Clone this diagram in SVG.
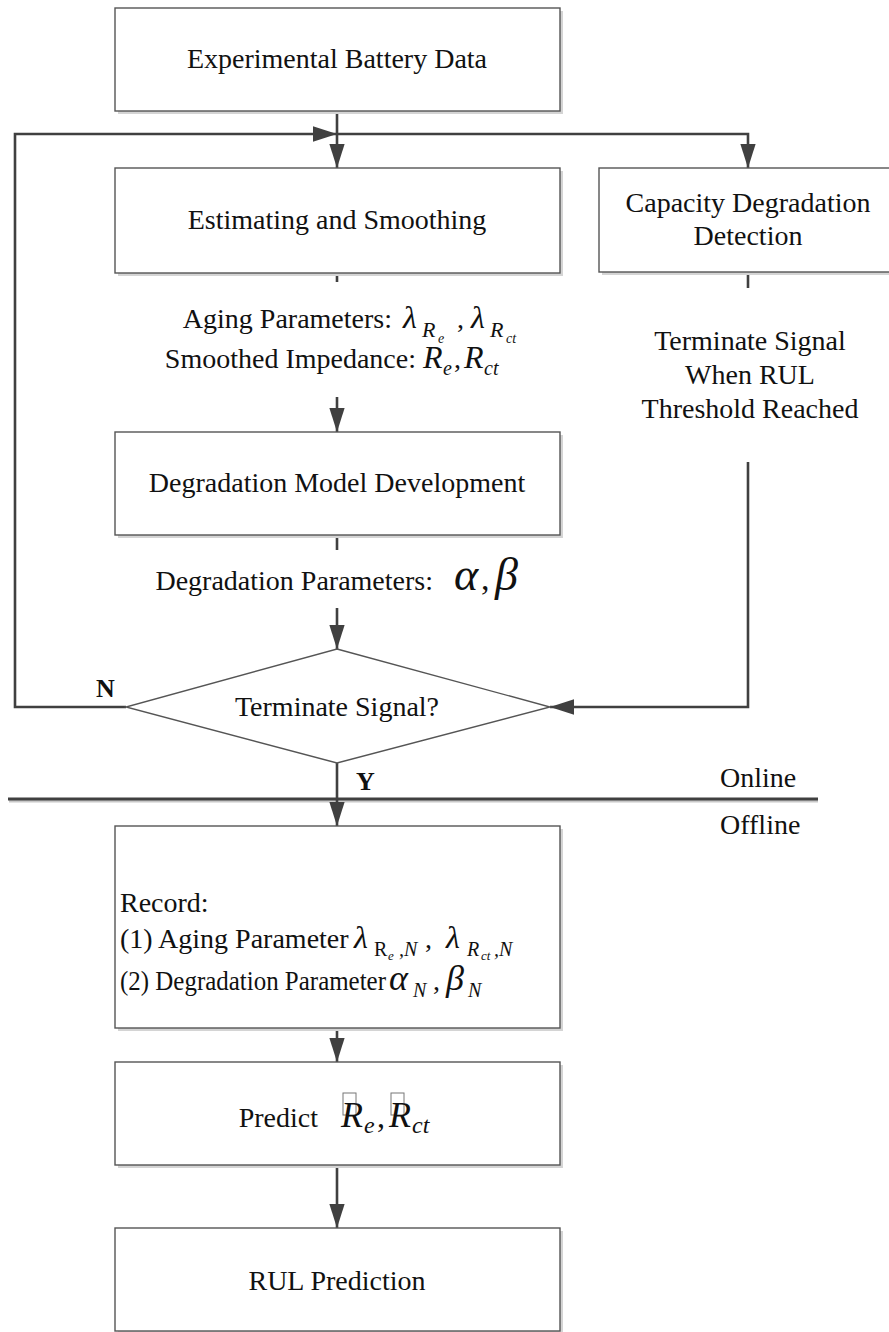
<svg xmlns="http://www.w3.org/2000/svg" width="889" height="1332" viewBox="0 0 889 1332">
  <style>
    .box { fill: #ffffff; stroke: #555555; stroke-width: 1.4; }
    .shadow { fill: #d4d4d4; }
    .flow { fill: none; stroke: #404040; stroke-width: 2.6; }
    .t { font-family: "Liberation Serif", "Times New Roman", serif; font-size: 28px; fill: #111111; }
    .mid { text-anchor: middle; }
    .end { text-anchor: end; }
    .m { font-family: "Liberation Serif", "Times New Roman", serif; font-style: italic; fill: #111111; }
    .up { font-style: normal; }
    .lbl { font-family: "Liberation Serif", "Times New Roman", serif; font-size: 26px; font-weight: bold; fill: #111111; }
    .tofu { fill: none; stroke: #777777; stroke-width: 1; }
  </style>
  <defs>
    <marker id="arrow" markerUnits="userSpaceOnUse" markerWidth="24" markerHeight="16" viewBox="0 0 22 14" refX="22" refY="7" orient="auto">
      <path d="M0,0 L22,7 L0,14 Z" fill="#404040"/>
    </marker>
  </defs>

  <rect width="889" height="1332" fill="#ffffff"/>

  <!-- online / offline separator -->
  <g id="separator">
    <line x1="9" y1="801" x2="818" y2="801" stroke="#c8c8c8" stroke-width="3"/>
    <line x1="8" y1="799" x2="818" y2="799" stroke="#404040" stroke-width="3"/>
    <text class="t" x="720" y="787">Online</text>
    <text class="t" x="720" y="834">Offline</text>
  </g>

  <!-- connectors -->
  <g id="connectors">
    <path class="flow" d="M337,111 V168" marker-end="url(#arrow)"/>
    <path class="flow" d="M337,134 H748 V168" marker-end="url(#arrow)"/>
    <path class="flow" d="M126,707 H15 V134 H337" marker-end="url(#arrow)"/>
    <path class="flow" d="M337,273 V282"/>
    <path class="flow" d="M337,397 V432" marker-end="url(#arrow)"/>
    <path class="flow" d="M337,535 V550"/>
    <path class="flow" d="M337,608 V649" marker-end="url(#arrow)"/>
    <path class="flow" d="M748,272 V288"/>
    <path class="flow" d="M748,462 V707 H550" marker-end="url(#arrow)"/>
    <path class="flow" d="M337,763 V826" marker-end="url(#arrow)"/>
    <path class="flow" d="M337,1028 V1062" marker-end="url(#arrow)"/>
    <path class="flow" d="M337,1165 V1228" marker-end="url(#arrow)"/>
    <text class="lbl" x="96" y="697">N</text>
    <text class="lbl" x="356" y="790">Y</text>
  </g>

  <g id="experimental-data">
    <rect class="shadow" x="118" y="11" width="445" height="103"/>
    <rect class="box" x="115" y="8" width="445" height="103"/>
    <text class="t mid" x="337" y="68">Experimental Battery Data</text>
  </g>

  <g id="estimating-smoothing">
    <rect class="shadow" x="118" y="171" width="445" height="105"/>
    <rect class="box" x="115" y="168" width="445" height="105"/>
    <text class="t mid" x="337" y="229">Estimating and Smoothing</text>
  </g>

  <g id="capacity-detection">
    <rect class="shadow" x="602" y="171" width="298" height="104"/>
    <rect class="box" x="599" y="168" width="298" height="104"/>
    <text class="t mid" x="748" y="212">Capacity Degradation</text>
    <text class="t mid" x="748" y="245">Detection</text>
  </g>

  <g id="terminate-note">
    <text class="t mid" x="750" y="350">Terminate Signal</text>
    <text class="t mid" x="750" y="384">When RUL</text>
    <text class="t mid" x="750" y="418">Threshold Reached</text>
  </g>

  <g id="aging-params">
    <text class="t end" x="392" y="328">Aging Parameters:</text>
    <text class="m"><tspan x="403" y="328" font-size="32">λ</tspan><tspan x="422" y="337" font-size="22">R</tspan><tspan x="438" y="343" font-size="14">e</tspan><tspan class="up" x="457" y="328" font-size="28">,</tspan><tspan x="471" y="328" font-size="32">λ</tspan><tspan x="490" y="337" font-size="22">R</tspan><tspan x="506" y="343" font-size="14">ct</tspan></text>
  </g>

  <g id="smoothed-impedance">
    <text class="t end" x="416" y="368">Smoothed Impedance:</text>
    <text class="m"><tspan x="423" y="368" font-size="32">R</tspan><tspan x="443" y="375" font-size="20">e</tspan><tspan class="up" x="454" y="368" font-size="28">,</tspan><tspan x="464" y="368" font-size="32">R</tspan><tspan x="484" y="375" font-size="20">ct</tspan></text>
  </g>

  <g id="degradation-model">
    <rect class="shadow" x="118" y="435" width="445" height="103"/>
    <rect class="box" x="115" y="432" width="445" height="103"/>
    <text class="t mid" x="337" y="492">Degradation Model Development</text>
  </g>

  <g id="degradation-params">
    <text class="t end" x="433" y="590">Degradation Parameters:</text>
    <text class="m"><tspan x="454" y="590" font-size="46">α</tspan><tspan class="up" x="481" y="590" font-size="34">,</tspan><tspan x="495" y="590" font-size="46">β</tspan></text>
  </g>

  <g id="terminate-decision">
    <path d="M337,649 L550,707 L337,763 L126,707 Z" fill="#ffffff" stroke="#555555" stroke-width="1.4"/>
    <text class="t mid" x="337" y="716">Terminate Signal?</text>
  </g>

  <g id="record">
    <rect class="shadow" x="118" y="829" width="445" height="202"/>
    <rect class="box" x="115" y="826" width="445" height="202"/>
    <text class="t" x="120" y="912">Record:</text>
    <text class="t" x="120" y="948">(1) Aging Parameter</text>
    <text class="m"><tspan x="354" y="948" font-size="32">λ</tspan><tspan class="up" x="374" y="956" font-size="20">R</tspan><tspan x="388" y="960" font-size="13">e</tspan><tspan x="399" y="956" font-size="20">,N</tspan><tspan class="up" x="425" y="948" font-size="28">,</tspan><tspan x="446" y="948" font-size="32">λ</tspan><tspan x="467" y="956" font-size="20">R</tspan><tspan x="481" y="960" font-size="13">ct</tspan><tspan x="494" y="956" font-size="20">,N</tspan></text>
    <text class="t" x="120" y="990" textLength="266" lengthAdjust="spacingAndGlyphs">(2) Degradation Parameter</text>
    <text class="m"><tspan x="389" y="990" font-size="36">α</tspan><tspan x="413" y="997" font-size="20">N</tspan><tspan class="up" x="433" y="990" font-size="28">,</tspan><tspan x="446" y="990" font-size="36">β</tspan><tspan x="468" y="997" font-size="20">N</tspan></text>
  </g>

  <g id="predict">
    <rect class="shadow" x="118" y="1065" width="445" height="103"/>
    <rect class="box" x="115" y="1062" width="445" height="103"/>
    <text class="t end" x="318" y="1127">Predict</text>
    <rect class="tofu" x="343" y="1093" width="13" height="22"/>
    <rect class="tofu" x="391" y="1093" width="13" height="22"/>
    <text class="m"><tspan x="341" y="1127" font-size="36">R</tspan><tspan x="364" y="1133" font-size="24">e</tspan><tspan class="up" x="377" y="1127" font-size="32">,</tspan><tspan x="389" y="1127" font-size="36">R</tspan><tspan x="412" y="1133" font-size="24">ct</tspan></text>
  </g>

  <g id="rul-prediction">
    <rect class="shadow" x="118" y="1231" width="445" height="103"/>
    <rect class="box" x="115" y="1228" width="445" height="103"/>
    <text class="t mid" x="337" y="1290">RUL Prediction</text>
  </g>
</svg>
